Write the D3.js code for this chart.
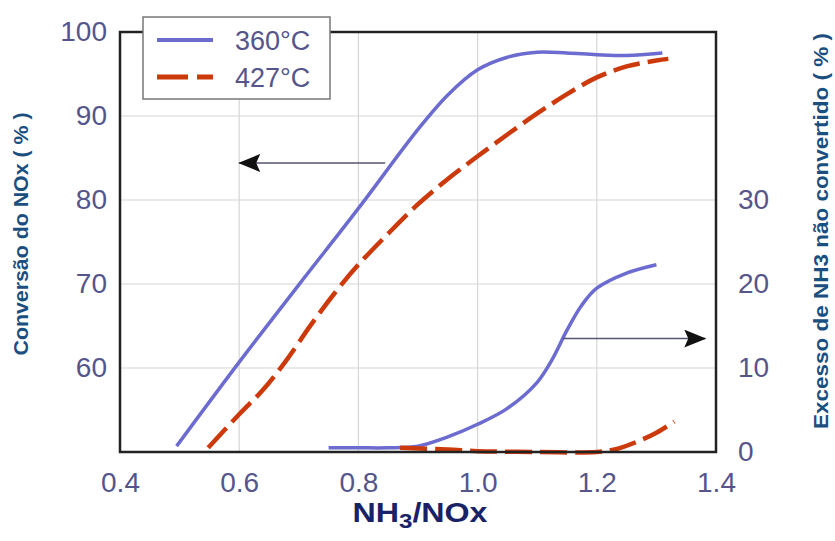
<!DOCTYPE html>
<html>
<head>
<meta charset="utf-8">
<script src="https://cdn.jsdelivr.net/npm/d3@7"></script>
<style>
  body { margin: 0; background: #fff; }
  svg { font-family: "Liberation Sans", Arial, sans-serif; }
</style>
</head>
<body>
<svg id="chart" width="835" height="541"></svg>
<script>
  // conversao do NOx (eixo esquerdo)
  var conv360 = [[0.495, 50.7], [0.6, 60.7], [0.7, 69.9], [0.8, 79], [0.9, 88.4], [0.95, 92.5],
    [1.0, 95.5], [1.05, 97.0], [1.1, 97.6], [1.15, 97.5], [1.2, 97.3], [1.25, 97.2], [1.31, 97.5]];
  var conv427 = [[0.548, 50.5], [0.6, 54.5], [0.64, 57.4], [0.68, 61], [0.72, 65.1], [0.76, 68.9],
    [0.8, 72.3], [0.85, 76], [0.9, 79.5], [0.95, 82.5], [1.0, 85.2], [1.05, 87.8], [1.1, 90.3],
    [1.15, 92.6], [1.2, 94.6], [1.25, 95.9], [1.3, 96.6], [1.32, 96.8]];
  // excesso de NH3 (eixo direito)
  var slip360 = [[0.75, 0.5], [0.8, 0.5], [0.85, 0.5], [0.9, 0.7], [0.95, 1.8], [1.0, 3.3],
    [1.05, 5.2], [1.1, 8.3], [1.125, 11], [1.15, 14.5], [1.175, 17.5], [1.2, 19.5], [1.25, 21.3], [1.3, 22.3]];
  var slip427 = [[0.87, 0.5], [0.95, 0.3], [1.0, 0.1], [1.1, 0], [1.2, 0], [1.23, 0.3],
    [1.27, 1.3], [1.3, 2.3], [1.33, 3.6]];

  var xTicks = [0.4, 0.6, 0.8, 1.0, 1.2, 1.4];
  var leftTicks = [60, 70, 80, 90, 100];
  var rightTicks = [0, 10, 20, 30];
  var gridX = [0.6, 0.8, 1.0, 1.2];
  var gridY = [60, 70, 80, 90];
  var seriesNames = ["360°C", "427°C"];

  var m = { left: 120, top: 32, right: 716, bottom: 452 };
  var blue = "#6b6bd0", red = "#cc3a0c";
  var tickColor = "#55558c", titleColor = "#1b4f80";

  var svg = d3.select("#chart");

  var x = d3.scaleLinear().domain([0.4, 1.4]).range([m.left, m.right]);
  var yL = d3.scaleLinear().domain([50, 100]).range([m.bottom, m.top]);
  var yR = d3.scaleLinear().domain([0, 50]).range([m.bottom, m.top]);

  // grade
  svg.append("g").selectAll("line").data(gridX).enter().append("line")
    .attr("x1", (d) => x(d)).attr("x2", (d) => x(d))
    .attr("y1", m.top).attr("y2", m.bottom)
    .attr("stroke", "#d6d6d6").attr("stroke-width", 1.2);
  svg.append("g").selectAll("line").data(gridY).enter().append("line")
    .attr("x1", m.left).attr("x2", m.right)
    .attr("y1", (d) => yL(d)).attr("y2", (d) => yL(d))
    .attr("stroke", "#d6d6d6").attr("stroke-width", 1.2);

  // eixos (so os rotulos)
  var axB = svg.append("g").attr("transform", "translate(0," + m.bottom + ")")
    .call(d3.axisBottom(x).tickValues(xTicks).tickSize(0).tickPadding(20).tickFormat(d3.format(".1f")));
  var axL = svg.append("g").attr("transform", "translate(" + m.left + ",0)")
    .call(d3.axisLeft(yL).tickValues(leftTicks).tickSize(0).tickPadding(13));
  var axR = svg.append("g").attr("transform", "translate(" + m.right + ",0)")
    .call(d3.axisRight(yR).tickValues(rightTicks).tickSize(0).tickPadding(22));
  [axB, axL, axR].forEach(function (a) {
    a.select(".domain").remove();
    a.selectAll("text").attr("fill", tickColor).style("font-size", "28px");
  });

  // linhas
  var line = function (ys) {
    return d3.line().x((d) => x(d[0])).y((d) => ys(d[1])).curve(d3.curveCatmullRom.alpha(0.5));
  };
  svg.append("path").attr("d", line(yL)(conv360))
    .attr("fill", "none").attr("stroke", blue).attr("stroke-width", 3.5);
  svg.append("path").attr("d", line(yL)(conv427))
    .attr("fill", "none").attr("stroke", red).attr("stroke-width", 4.5).attr("stroke-dasharray", "27,8");
  svg.append("path").attr("d", line(yR)(slip360))
    .attr("fill", "none").attr("stroke", blue).attr("stroke-width", 3.5);
  svg.append("path").attr("d", line(yR)(slip427))
    .attr("fill", "none").attr("stroke", red).attr("stroke-width", 4.5).attr("stroke-dasharray", "27,8");

  // moldura
  svg.append("rect").attr("x", m.left).attr("y", m.top)
    .attr("width", m.right - m.left).attr("height", m.bottom - m.top)
    .attr("fill", "none").attr("stroke", "#222").attr("stroke-width", 2.5);

  // setas
  svg.append("defs").append("marker").attr("id", "head")
    .attr("viewBox", "0 0 22 18").attr("refX", 21).attr("refY", 9)
    .attr("markerWidth", 22).attr("markerHeight", 18).attr("markerUnits", "userSpaceOnUse")
    .attr("orient", "auto")
    .append("path").attr("d", "M0,0 L22,9 L0,18 L4,9 Z").attr("fill", "#111");
  svg.append("line").attr("x1", x(0.845)).attr("x2", x(0.6)).attr("y1", yL(84.4)).attr("y2", yL(84.4))
    .attr("stroke", "#555570").attr("stroke-width", 1.5).attr("marker-end", "url(#head)");
  svg.append("line").attr("x1", x(1.143)).attr("x2", x(1.382)).attr("y1", yR(13.5)).attr("y2", yR(13.5))
    .attr("stroke", "#555570").attr("stroke-width", 1.5).attr("marker-end", "url(#head)");

  // legenda
  var lg = svg.append("g").attr("transform", "translate(143,17)");
  lg.append("rect").attr("width", 187).attr("height", 82)
    .attr("fill", "#fff").attr("stroke", "#777").attr("stroke-width", 1.5);
  var rows = lg.selectAll(".row").data(seriesNames).enter().append("g")
    .attr("transform", (d, i) => "translate(0," + (23 + i * 37) + ")");
  rows.append("line").attr("x1", 14).attr("x2", 70).attr("y1", 0).attr("y2", 0)
    .attr("stroke", (d, i) => i ? red : blue)
    .attr("stroke-width", (d, i) => i ? 5 : 4)
    .attr("stroke-dasharray", (d, i) => i ? "31,9" : null);
  rows.append("text").attr("x", 92).attr("y", 0).attr("dy", "0.36em")
    .attr("fill", tickColor).style("font-size", "27px").text((d) => d);

  // titulos
  svg.append("text").attr("transform", "translate(28,234) rotate(-90)")
    .attr("text-anchor", "middle").attr("fill", titleColor)
    .attr("textLength", 243).attr("lengthAdjust", "spacingAndGlyphs")
    .style("font-size", "20px").style("font-weight", "bold").text("Conversão do NOx ( % )");
  svg.append("text").attr("transform", "translate(828,231) rotate(-90)")
    .attr("text-anchor", "middle").attr("fill", titleColor)
    .attr("textLength", 396).attr("lengthAdjust", "spacingAndGlyphs")
    .style("font-size", "21px").style("font-weight", "bold").text("Excesso de NH3 não convertido ( % )");
  var xt = svg.append("g").attr("transform", "translate(420,522) scale(1.15,1)")
    .append("text").attr("text-anchor", "middle").attr("fill", "#1a2266")
    .style("font-size", "28px").style("font-weight", "bold");
  xt.append("tspan").text("NH");
  xt.append("tspan").attr("dy", 6).style("font-size", "21px").text("3");
  xt.append("tspan").attr("dy", -6).text("/NOx");
</script>
</body>
</html>
